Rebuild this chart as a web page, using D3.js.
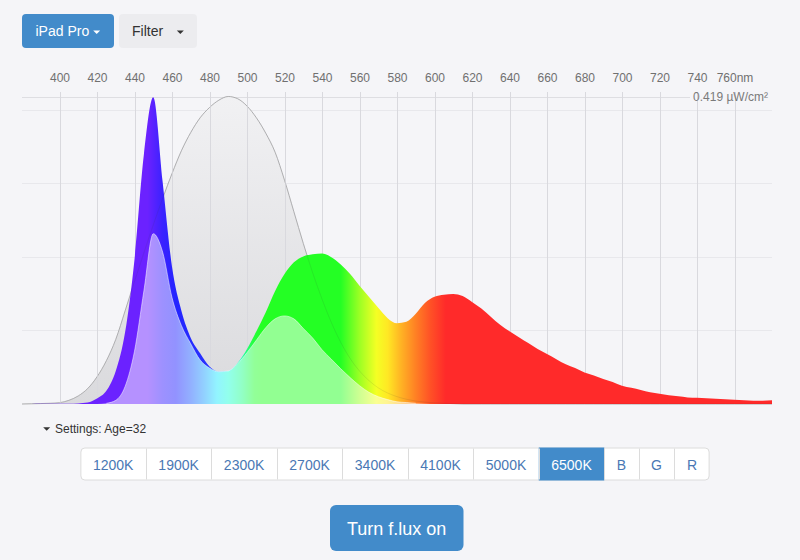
<!DOCTYPE html>
<html><head><meta charset="utf-8">
<script src="https://cdn.jsdelivr.net/npm/d3@7"></script>
<style>
html,body{margin:0;padding:0;background:#f5f5f8;}
svg{display:block;font-family:"Liberation Sans",Arial,Helvetica,sans-serif;}
</style></head><body>
<svg id="c" width="800" height="560"></svg>
<script>
// ---------- DATA ----------
const wavelengths = [
  380,385,390,395,400,405,410,415,420,425,
  430,435,440,445,450,455,460,465,470,475,
  480,485,490,495,500,505,510,515,520,525,
  530,535,540,545,550,555,560,565,570,575,
  580,585,590,595,600,605,610,615,620,625,
  630,635,640,645,650,655,660,665,670,675,
  680,685,690,695,700,705,710,715,720,725,
  730,735,740,745,750,755,760,765,770,775,
  780];
// device spectrum, µW/cm² per wavelength
const spectrum = [
  0,0.0001,0.0002,0.0002,0.0003,0.0005,0.0008,0.002,0.0075,0.018,
  0.045,0.098,0.197,0.340,0.418,0.303,0.187,0.127,0.090,0.069,
  0.051,0.044,0.045,0.056,0.075,0.099,0.125,0.154,0.177,0.193,
  0.201,0.204,0.205,0.200,0.190,0.177,0.161,0.146,0.131,0.117,
  0.110,0.112,0.123,0.138,0.146,0.149,0.150,0.147,0.139,0.130,
  0.119,0.108,0.099,0.091,0.083,0.075,0.068,0.061,0.054,0.049,
  0.043,0.039,0.034,0.030,0.025,0.022,0.019,0.016,0.014,0.012,
  0.0105,0.009,0.0085,0.0078,0.0072,0.0064,0.0057,0.005,0.0045,0.0045,
  0.005];
// melanopic-weighted part of the spectrum
const melanopicWeighted = [
  0,0,0,0,0,0,0,0,0,0.001,
  0.005,0.024,0.072,0.154,0.232,0.207,0.145,0.107,0.082,0.060,
  0.049,0.044,0.045,0.055,0.070,0.087,0.104,0.116,0.120,0.116,
  0.103,0.090,0.074,0.061,0.048,0.036,0.025,0.016,0.010,0.006,
  0.003,0.002,0.001,0.0005,0,0,0,0,0,0,
  0,0,0,0,0,0,0,0,0,0,
  0,0,0,0,0,0,0,0,0,0,
  0,0,0,0,0,0,0,0,0,0,
  0];
// melanopic sensitivity curve, scaled to the peak
const melanopicCurve = [
  0,0.0003,0.0006,0.001,0.0018,0.005,0.011,0.021,0.037,0.059,
  0.088,0.127,0.167,0.206,0.244,0.280,0.314,0.345,0.370,0.390,
  0.404,0.414,0.419,0.416,0.406,0.390,0.369,0.343,0.305,0.262,
  0.219,0.179,0.143,0.111,0.084,0.062,0.045,0.032,0.022,0.015,
  0.010,0.0065,0.004,0.0025,0.0015,0.001,0.0005,0,0,0,
  0,0,0,0,0,0,0,0,0,0,
  0,0,0,0,0,0,0,0,0,0,
  0,0,0,0,0,0,0,0,0,0,
  0];
const tickValues = [400,420,440,460,480,500,520,540,560,580,600,620,640,660,680,700,720,740,760];
const tickLabels = ["400","420","440","460","480","500","520","540","560","580","600","620","640","660","680","700","720","740","760nm"];
const gridValues = [0.1,0.2,0.3,0.4];
const peakValue = 0.419;
const peakLabel = "0.419 µW/cm²";
const deviceLabel = "iPad Pro";
const filterLabel = "Filter";
const settingsLabel = "Settings: Age=32";
const presetLabels = ["1200K","1900K","2300K","2700K","3400K","4100K","5000K","6500K","B","G","R"];
const activePreset = "6500K";
const actionLabel = "Turn f.lux on";

// ---------- STYLE ----------
const specStops = [[380,"#6b22ff"],[447,"#6b22ff"],[455,"#3a22ff"],[462,"#2424ff"],[481,"#2836ff"],
  [487,"#24a0ff"],[492,"#24e8ff"],[497,"#24ffb0"],[503,"#24ff40"],[508,"#24ff24"],
  [550,"#24ff24"],[560,"#9cff24"],[569,"#f4ff24"],[575,"#ffe824"],[582,"#ffb424"],[590,"#ff8024"],
  [598,"#ff5026"],[606,"#ff2a2a"],[780,"#ff2a2a"]];
const lightStops = [[380,"#6b22ff"],[447,"#6b22ff"],[455,"#3a22ff"],[462,"#2424ff"],[470,"#2460ff"],
  [477,"#24a0ff"],[484,"#24e8ff"],[490,"#24ffd8"],[497,"#24ff90"],[504,"#24ff30"],[508,"#24ff24"],
  [550,"#24ff24"],[560,"#9cff24"],[569,"#f4ff24"],[575,"#ffe824"],[582,"#ffb424"],[590,"#ff8024"],
  [598,"#ff5026"],[606,"#ff2a2a"],[780,"#ff2a2a"]];
const blue = "#428bca";

// ---------- DRAW ----------
const svg = d3.select("#c");
svg.append("rect").attr("width",800).attr("height",560).attr("fill","#f5f5f8");

const x = d3.scaleLinear().domain([380,780]).range([22,772]);
const y = d3.scaleLinear().domain([0,peakValue]).range([404,96.5]);
const data = wavelengths.map((nm,i)=>({nm, s:spectrum[i], w:melanopicWeighted[i], m:melanopicCurve[i]}));

const defs = svg.append("defs");
function grad(id, stops, mix){
  const g = defs.append("linearGradient").attr("id",id).attr("gradientUnits","userSpaceOnUse")
    .attr("x1",x(380)).attr("x2",x(780)).attr("y1",0).attr("y2",0);
  g.selectAll("stop").data(stops).join("stop")
    .attr("offset",d=>(d[0]-380)/400)
    .attr("stop-color",d=>mix? d3.interpolateRgb(d[1],"#ffffff")(mix) : d[1]);
}
grad("spec",specStops,0); grad("specLight",lightStops,0.5);
const gg = defs.append("linearGradient").attr("id","grayGrad").attr("gradientUnits","userSpaceOnUse")
  .attr("x1",0).attr("x2",0).attr("y1",y(peakValue)).attr("y2",y(0));
gg.append("stop").attr("offset",0).attr("stop-color","#f1f1f3");
gg.append("stop").attr("offset",1).attr("stop-color","#dadadd");

// horizontal grid
svg.append("g").selectAll("line").data(gridValues).join("line")
  .attr("x1",x(380)).attr("x2",x(780)).attr("y1",d=>y(d)).attr("y2",d=>y(d))
  .attr("stroke","#e8e8ec").attr("stroke-width",1).attr("shape-rendering","crispEdges");
svg.append("line").attr("x1",x(380)).attr("x2",690).attr("y1",Math.round(y(peakValue))).attr("y2",Math.round(y(peakValue)))
  .attr("stroke","#dedee2").attr("shape-rendering","crispEdges");

const areaOf = key => d3.area().x(d=>x(d.nm)).y0(y(0)).y1(d=>y(d[key])).curve(d3.curveMonotoneX);
const lineOf = key => d3.line().x(d=>x(d.nm)).y(d=>y(d[key])).curve(d3.curveMonotoneX);

// melanopic curve (gray)
svg.append("path").datum(data).attr("d",areaOf("m")).attr("fill","url(#grayGrad)");
svg.append("path").datum(data).attr("d",lineOf("m")).attr("fill","none").attr("stroke","#bdbdbf").attr("stroke-width",1);

// axis with vertical grid lines
const axis = d3.axisTop(x).tickValues(tickValues).tickSize(-(404-92)).tickPadding(10)
  .tickFormat((d,i)=>tickLabels[i]);
const ag = svg.append("g").attr("transform","translate(0,92)").call(axis);
ag.select(".domain").remove();
ag.attr("font-family",null).attr("font-size",null);
ag.selectAll(".tick line").attr("stroke","#d9d9de").attr("shape-rendering","crispEdges");
ag.selectAll(".tick text").attr("fill","#707070").attr("font-size",12);

svg.append("text").attr("x",768).attr("y",100.5).attr("text-anchor","end")
  .attr("font-size",12).attr("fill","#7a7a7a").text(peakLabel);

// spectrum
svg.append("path").datum(data).attr("d",areaOf("s")).attr("fill","url(#spec)");
svg.append("path").datum(data).attr("d",areaOf("w")).attr("fill","url(#specLight)");
svg.append("path").datum(data.filter(d=>d.nm>=425&&d.nm<=590)).attr("d",lineOf("w")).attr("fill","none")
  .attr("stroke","#ffffff").attr("stroke-opacity",0.5).attr("stroke-width",1);
svg.append("path").datum(data).attr("d",lineOf("m")).attr("fill","none").attr("stroke","#333")
  .attr("stroke-opacity",0.1).attr("stroke-width",1);

// ---------- UI ----------
function caret(g, cx, cy, color){
  g.append("path").attr("d",`M${cx-3.5},${cy-1.7}L${cx+3.5},${cy-1.7}L${cx},${cy+1.8}Z`).attr("fill",color);
}
const topBar = svg.append("g");
topBar.append("rect").attr("x",22).attr("y",14).attr("width",92).attr("height",34).attr("rx",4).attr("fill",blue);
topBar.append("text").attr("x",35.5).attr("y",36).attr("font-size",14).attr("fill","#fff").text(deviceLabel);
caret(topBar,96.7,32.3,"#fff");
topBar.append("rect").attr("x",119).attr("y",14).attr("width",78).attr("height",34).attr("rx",4).attr("fill","#ececef");
topBar.append("text").attr("x",132).attr("y",36).attr("font-size",14).attr("fill","#333").text(filterLabel);
caret(topBar,180.3,32.3,"#333");

const st = svg.append("g");
caret(st,46.7,429,"#333");
st.append("text").attr("x",55).attr("y",432.5).attr("font-size",12).attr("fill","#333").text(settingsLabel);

// preset button group
const bg = svg.append("g");
const gy = 447.5, gh = 33;
const tmp = bg.selectAll("text.m").data(presetLabels).join("text").attr("class","m").attr("font-size",14).text(d=>d);
const widths = [];
tmp.each(function(){ widths.push(this.getComputedTextLength()+25); });
tmp.remove();
const total = d3.sum(widths);
const gx = 395 - total/2;
const starts = []; let acc = gx;
widths.forEach(w=>{ starts.push(acc); acc += w; });
bg.append("rect").attr("x",gx+0.5).attr("y",gy+0.5).attr("width",total-1).attr("height",gh-1).attr("rx",4)
  .attr("fill","#fff").attr("stroke","#dcdcdc");
const ai = presetLabels.indexOf(activePreset);
bg.append("rect").attr("x",starts[ai]).attr("y",gy).attr("width",widths[ai]).attr("height",gh).attr("fill",blue);
bg.selectAll("line").data(starts.slice(1)).join("line")
  .attr("x1",d=>Math.round(d)+0.5).attr("x2",d=>Math.round(d)+0.5).attr("y1",gy+1).attr("y2",gy+gh-1)
  .attr("stroke","#dcdcdc");
bg.selectAll("text.b").data(presetLabels).join("text").attr("class","b")
  .attr("x",(d,i)=>starts[i]+widths[i]/2).attr("y",gy+22).attr("text-anchor","middle")
  .attr("font-size",14).attr("fill",d=>d===activePreset?"#fff":"#4a78b4").text(d=>d);

// action button
const act = svg.append("g");
act.append("rect").attr("x",330).attr("y",505).attr("width",133.5).attr("height",46).attr("rx",6).attr("fill",blue);
act.append("text").attr("x",396.7).attr("y",534.5).attr("text-anchor","middle").attr("font-size",18)
  .attr("fill","#fff").text(actionLabel);
</script>
</body></html>
